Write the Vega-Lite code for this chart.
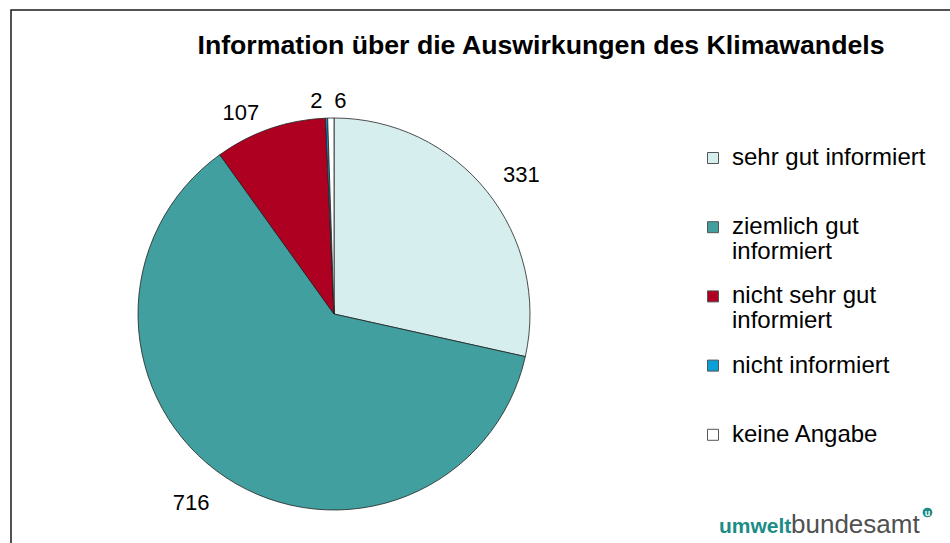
{
  "$schema": "https://vega.github.io/schema/vega-lite/v6.json",
  "width": 950,
  "height": 543,
  "autosize": {"type": "fit", "contains": "padding"},
  "padding": {"left": 10, "top": 9, "right": -6, "bottom": -6},
  "background": "white",
  "config": {
    "view": {"stroke": null},
    "font": "Liberation Sans"
  },
  "title": {
    "text": "Information über die Auswirkungen des Klimawandels",
    "font": "Liberation Sans",
    "fontSize": 26.7,
    "fontWeight": "bold",
    "color": "#000000",
    "anchor": "middle",
    "frame": "group",
    "baseline": "alphabetic",
    "offset": -71,
    "dx": 58
  },
  "data": {
    "values": [
      {"cat": "sehr gut informiert", "n": 331, "i": 1},
      {"cat": "ziemlich gut informiert", "n": 716, "i": 2},
      {"cat": "nicht sehr gut informiert", "n": 107, "i": 3},
      {"cat": "nicht informiert", "n": 2, "i": 4},
      {"cat": "keine Angabe", "n": 6, "i": 5}
    ]
  },
  "layer": [
    {
      "data": {"values": [{"part": "frame"}]},
      "mark": {"type": "rect", "x": 0, "y": 0, "x2": "width", "y2": "height", "fill": null, "fillOpacity": 0, "stroke": "#1a1a1a", "strokeWidth": 1.5},
      "encoding": {}
    },
    {
      "mark": {"type": "arc", "x": 323, "y": 304, "outerRadius": 196, "stroke": "#222222", "strokeWidth": 0.8},
      "encoding": {
        "theta": {"field": "n", "type": "quantitative", "stack": true},
        "order": {"field": "i", "type": "quantitative"},
        "color": {
          "field": "cat",
          "type": "nominal",
          "scale": {
            "domain": ["sehr gut informiert", "ziemlich gut informiert", "nicht sehr gut informiert", "nicht informiert", "keine Angabe"],
            "range": ["#d6efee", "#41a09f", "#ae0020", "#0a9fd6", "#ffffff"]
          },
          "legend": {
            "title": null,
            "orient": "none",
            "legendX": 690,
            "legendY": 136,
            "padding": 0,
            "symbolType": "square",
            "symbolSize": 121,
            "symbolStrokeColor": "#555555",
            "symbolStrokeWidth": 1,
            "labelFont": "Liberation Sans",
            "labelFontSize": 24,
            "labelColor": "#000000",
            "labelOffset": 7,
            "labelLimit": 300,
            "rowPadding": 20.2,
            "labelExpr": "datum.label == 'ziemlich gut informiert' ? ['ziemlich gut', 'informiert'] : datum.label == 'nicht sehr gut informiert' ? ['nicht sehr gut', 'informiert'] : [datum.label, '']",
            "encode": {
              "labels": {"update": {"lineHeight": {"value": 25}}}
            }
          }
        }
      }
    },
    {
      "mark": {
        "type": "text",
        "x": 323,
        "y": 304,
        "radius": 230,
        "fontSize": 22,
        "font": "Liberation Sans",
        "color": "#000000",
        "align": "center",
        "baseline": "middle",
        "dx": {"expr": "datum.cat == 'sehr gut informiert' ? 8 : datum.cat == 'ziemlich gut informiert' ? -16 : datum.cat == 'nicht sehr gut informiert' ? -18 : datum.cat == 'nicht informiert' ? -9 : 10"},
        "dy": {"expr": "datum.cat == 'sehr gut informiert' ? 5 : datum.cat == 'ziemlich gut informiert' ? -3 : datum.cat == 'nicht sehr gut informiert' ? 16 : 17"}
      },
      "encoding": {
        "theta": {"field": "n", "type": "quantitative", "stack": true},
        "order": {"field": "i", "type": "quantitative"},
        "text": {"field": "n", "type": "quantitative"}
      }
    },
    {
      "data": {"values": [{"part": "umwelt"}]},
      "mark": {"type": "text", "x": 708, "y": 523, "align": "left", "baseline": "alphabetic", "font": "Liberation Sans", "fontSize": 21, "fontWeight": "bold", "color": "#1b8c86"},
      "encoding": {"text": {"field": "part"}}
    },
    {
      "data": {"values": [{"part": "bundesamt"}]},
      "mark": {"type": "text", "x": 780, "y": 523, "align": "left", "baseline": "alphabetic", "font": "Liberation Sans", "fontSize": 26, "fontWeight": "normal", "color": "#505050"},
      "encoding": {"text": {"field": "part"}}
    },
    {
      "data": {"values": [{"part": "u"}]},
      "mark": {"type": "point", "shape": "circle", "filled": true, "x": 916.5, "y": 502.5, "size": 95, "color": "#1b8c86", "opacity": 1},
      "encoding": {}
    },
    {
      "data": {"values": [{"part": "u"}]},
      "mark": {"type": "text", "x": 916.5, "y": 502.5, "align": "center", "baseline": "middle", "font": "Liberation Sans", "fontSize": 9, "fontWeight": "bold", "color": "#ffffff"},
      "encoding": {"text": {"field": "part"}}
    }
  ]
}
